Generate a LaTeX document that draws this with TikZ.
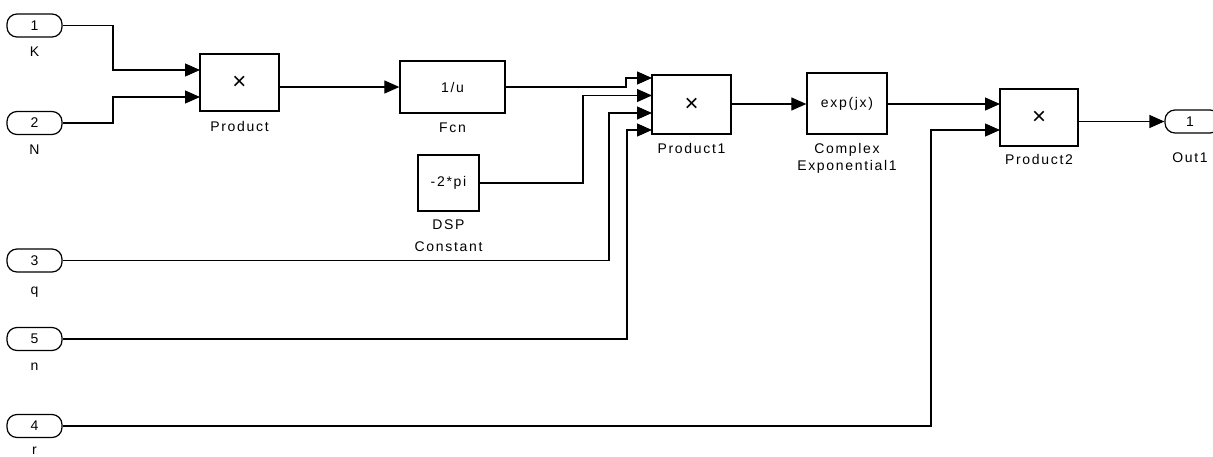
\documentclass[tikz,border=0pt]{standalone}
\usepackage{fontspec}
\setmainfont{Liberation Sans}[LetterSpace=12]
\newfontfamily\mulfont{Liberation Sans}
\usetikzlibrary{arrows.meta}
\begin{document}
\begin{tikzpicture}[x=1pt,y=-1pt,
  every node/.style={font=\fontsize{14}{16}\selectfont, inner sep=0pt},
  blk/.style={draw, line width=1.3pt, fill=white},
  port/.style={draw, line width=1.2pt, rounded corners=10pt, minimum width=55pt, minimum height=23pt},
  lbl/.style={anchor=center},
  wire/.style={line width=1.2pt},
  sig/.style={wire, -{Triangle[length=15pt,width=13pt]}},
  mul/.style={font=\mulfont\fontsize{24}{24}\selectfont}]
\useasboundingbox (0,0) rectangle (1213,456);
\clip (0,0) rectangle (1213,456);
\fill[white] (0,0) rectangle (1213,456);

% inports
\node[port] (in1) at (34.5,25.5) {1};
\node[lbl] (lK) at (34.5,52) {K};
\node[port] (in2) at (34.5,123) {2};
\node[lbl] (lN) at (34.5,150) {N};
\node[port] (in3) at (34.5,260.5) {3};
\node[lbl] (lq) at (34.5,292) {q};
\node[port] (in5) at (34.5,339) {5};
\node[lbl] (ln) at (34.5,367) {n};
\node[port] (in4) at (34.5,426) {4};
\node[lbl] (lr) at (34.5,451) {r};

% blocks
\node[blk, minimum width=79pt, minimum height=57pt, mul] (prod) at (239.5,82.5) {×};
\node[lbl] (lprod) at (239.5,126) {Product};
\node[blk, minimum width=105pt, minimum height=52pt] (fcn) at (452.5,87) {1/u};
\node[lbl] (lfcn) at (452.5,128) {Fcn};
\node[blk, minimum width=61pt, minimum height=56pt] (dsp) at (448.5,183) {-2*pi};
\node[lbl] (ldsp1) at (448.5,225) {DSP};
\node[lbl] (ldsp2) at (448.5,247) {Constant};
\node[blk, minimum width=79pt, minimum height=59pt, mul] (prod1) at (691.5,104.5) {×};
\node[lbl] (lprod1) at (691.5,148) {Product1};
\node[blk, minimum width=80pt, minimum height=61pt] (cexp) at (847,103.5) {exp(jx)};
\node[lbl] (lcexp1) at (847,150) {Complex};
\node[lbl] (lcexp2) at (847,167) {Exponential1};
\node[blk, minimum width=78pt, minimum height=57pt, mul] (prod2) at (1039,117.5) {×};
\node[lbl] (lprod2) at (1039,159) {Product2};
\node[port] (out1) at (1192.5,121.5) {\hspace*{-5pt}1};
\node[lbl] (lout1) at (1190,158) {Out1};

% port coordinates
\coordinate (p0a) at (200,70);
\coordinate (p0b) at (200,97);
\coordinate (p1a) at (652,78);
\coordinate (p1b) at (652,95.5);
\coordinate (p1c) at (652,113);
\coordinate (p1d) at (652,130);
\coordinate (p2a) at (1000,104);
\coordinate (p2b) at (1000,130);

% connectors
\draw[sig] (in1.east) -| (113,47) |- (p0a);
\draw[sig] (in2.east) -| (113,110) |- (p0b);
\draw[sig] (prod.east |- fcn.west) -- (fcn.west);
\draw[sig] (fcn.east) -| (626,82) |- (p1a);
\draw[sig] (dsp.east) -| (583,140) |- (p1b);
\draw[sig] (in3.east) -| (609,200) |- (p1c);
\draw[sig] (in5.east) -| (627,200) |- (p1d);
\draw[sig] (prod1.east |- p2a) -- (cexp.west |- p2a);
\draw[sig] (cexp.east |- p2a) -- (p2a);
\draw[sig] (in4.east) -| (931,300) |- (p2b);
\draw[sig] (prod2.east |- out1.west) -- (out1.west);
\end{tikzpicture}
\end{document}
